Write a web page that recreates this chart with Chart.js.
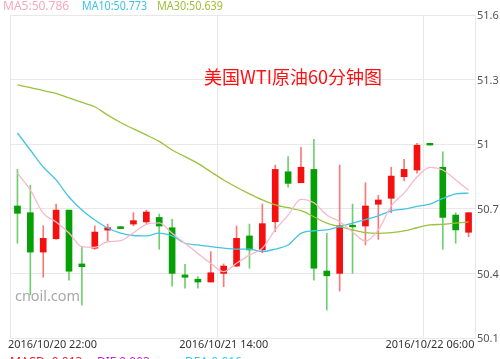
<!DOCTYPE html>
<html>
<head>
<meta charset="utf-8">
<script src="https://cdn.jsdelivr.net/npm/chart.js@4/dist/chart.umd.min.js"></script>
<style>
html,body{margin:0;padding:0;background:#fff;}
#wrap{width:500px;height:359px;position:relative;overflow:hidden;}
</style>
</head>
<body>
<div id="wrap"><canvas id="c" width="500" height="359"></canvas></div>
<script>
const labels = [
"2016/10/20 22:00","2016/10/20 23:00",
"2016/10/21 00:00","2016/10/21 01:00","2016/10/21 02:00","2016/10/21 03:00","2016/10/21 04:00","2016/10/21 05:00",
"2016/10/21 06:00","2016/10/21 07:00","2016/10/21 08:00","2016/10/21 09:00","2016/10/21 10:00","2016/10/21 11:00",
"2016/10/21 12:00","2016/10/21 13:00","2016/10/21 14:00","2016/10/21 15:00","2016/10/21 16:00","2016/10/21 17:00",
"2016/10/21 18:00","2016/10/21 19:00","2016/10/21 20:00","2016/10/21 21:00","2016/10/21 22:00","2016/10/21 23:00",
"2016/10/22 00:00","2016/10/22 01:00","2016/10/22 02:00","2016/10/22 03:00","2016/10/22 04:00","2016/10/22 05:00",
"2016/10/22 06:00","2016/10/22 07:00","2016/10/22 08:00","2016/10/22 09:00"
];
const openVals  = [50.713,50.682,50.499,50.561,50.694,50.444,50.517,50.601,50.617,50.629,50.639,50.660,50.612,50.393,50.373,50.360,50.400,50.434,50.574,50.509,50.640,50.872,50.821,50.883,50.411,50.400,50.624,50.620,50.721,50.749,50.849,50.880,51.004,50.893,50.671,50.591];
const closeVals = [50.679,50.499,50.563,50.694,50.410,50.431,50.592,50.612,50.608,50.645,50.685,50.620,50.400,50.382,50.360,50.403,50.434,50.563,50.509,50.631,50.883,50.818,50.893,50.424,50.389,50.621,50.616,50.713,50.741,50.852,50.883,50.995,50.996,50.660,50.602,50.682];
const highVals  = [50.883,50.810,50.621,50.722,50.694,50.524,50.621,50.629,50.617,50.682,50.694,50.676,50.651,50.442,50.385,50.501,50.444,50.620,50.629,50.722,50.903,50.942,50.986,51.023,50.586,50.903,50.722,50.821,50.763,50.893,50.930,51.004,51.004,50.965,50.682,50.682];
const lowVals   = [50.540,50.300,50.382,50.558,50.369,50.253,50.512,50.552,50.608,50.621,50.628,50.512,50.341,50.331,50.331,50.360,50.338,50.431,50.424,50.496,50.594,50.800,50.821,50.369,50.230,50.318,50.400,50.532,50.558,50.682,50.830,50.865,50.996,50.512,50.540,50.570];
const ma5Vals   = [50.865,50.787,50.680,50.639,50.588,50.524,50.521,50.547,50.552,50.589,50.628,50.635,50.586,50.540,50.493,50.447,50.408,50.447,50.485,50.517,50.602,50.671,50.744,50.728,50.671,50.640,50.592,50.550,50.602,50.713,50.773,50.848,50.892,50.880,50.834,50.786];
const ma10Vals  = [51.052,50.973,50.894,50.834,50.755,50.694,50.648,50.611,50.587,50.576,50.574,50.587,50.574,50.540,50.532,50.524,50.517,50.513,50.513,50.501,50.513,50.532,50.586,50.598,50.602,50.617,50.634,50.650,50.667,50.690,50.699,50.711,50.722,50.748,50.769,50.773];
const ma30Vals  = [51.275,51.263,51.249,51.236,51.215,51.194,51.174,51.135,51.101,51.071,51.043,51.013,50.973,50.942,50.911,50.872,50.834,50.800,50.769,50.741,50.718,50.705,50.691,50.663,50.633,50.617,50.602,50.589,50.586,50.589,50.597,50.612,50.625,50.628,50.633,50.639];
const yTicks = [50.1,50.4,50.7,51,51.3,51.6];
const xTickLabels = ["2016/10/20 22:00","2016/10/21 14:00","2016/10/22 06:00"];
const legendItems = [["MA5:50.786","#f5a9be"],["MA10:50.773","#3fc3df"],["MA30:50.639","#9dc03a"]];
const chartTitle = "美国WTI原油60分钟图";
const watermark = "cnoil.com";
const subLegend = [["MACD:-0.013","#e8202a"],["DIF:0.003","#d020c8"],["DEA:0.016","#30c8e0"]];

const UP_BODY = "#f51010", DOWN_BODY = "#06a006";
const UP_WICK = "#f77a7a", DOWN_WICK = "#6fcf6f";
const isUp = openVals.map((o,i)=>closeVals[i] >= o);

const bodies = openVals.map((o,i)=>[o, closeVals[i]]);
const wicks = lowVals.map((l,i)=>[l, highVals[i]]);

const GRID = "#e8e8e8";
const FONT = "'Noto Sans', 'DejaVu Sans', sans-serif";

const overlay = {
  id: 'overlay',
  beforeDatasetsDraw(chart){
    const ctx = chart.ctx;
    ctx.save();
    ctx.font = "15px " + FONT;
    ctx.fillStyle = "#a8a8a8";
    ctx.textBaseline = "middle";
    ctx.textAlign = "left";
    ctx.fillText(watermark, 15, 297, 65);
    ctx.restore();
  },
  afterDraw(chart){
    const ctx = chart.ctx;
    const xs = chart.scales.x;
    ctx.save();
    // title
    ctx.font = "18px 'Noto Sans CJK SC', sans-serif";
    ctx.fillStyle = "#ff1010";
    ctx.textAlign = "center";
    ctx.textBaseline = "middle";
    ctx.fillText(chartTitle, 293, 77, 178);
    // top legend
    ctx.font = "12px " + FONT;
    ctx.textAlign = "left";
    const legX = [3, 82, 157];
    const legW = [68, 65, 66];
    legendItems.forEach(([t,c],i)=>{
      ctx.fillStyle = c;
      ctx.fillText(t, legX[i], 7, legW[i]);
    });
    // x tick labels
    ctx.font = "11px " + FONT;
    ctx.fillStyle = "#333";
    ctx.textBaseline = "middle";
    xTickLabels.forEach(t=>{
      const idx = labels.indexOf(t);
      const x = xs.getPixelForValue(idx);
      const w = Math.min(ctx.measureText(t).width, 89);
      const left = Math.max(x - w/2, 8);
      ctx.textAlign = "left";
      ctx.fillText(t, left, 345, 89);
    });
    // cut-off sub legend at bottom
    ctx.font = "12px " + FONT;
    ctx.textBaseline = "top";
    const subX = [10, 97, 185];
    subLegend.forEach(([t,c],i)=>{
      ctx.fillStyle = c;
      ctx.fillText(t, subX[i], 357);
    });
    ctx.restore();
  }
};

new Chart(document.getElementById('c'), {
  type: 'bar',
  data: {
    labels: labels,
    datasets: [
      {type:'line', label:'MA5', data: ma5Vals, borderColor:'#f8b8c8', borderWidth:1.3, pointRadius:0, cubicInterpolationMode:'monotone', order:0},
      {type:'line', label:'MA10', data: ma10Vals, borderColor:'#45c4e2', borderWidth:1.3, pointRadius:0, cubicInterpolationMode:'monotone', order:0},
      {type:'line', label:'MA30', data: ma30Vals, borderColor:'#9cc13a', borderWidth:1.3, pointRadius:0, cubicInterpolationMode:'monotone', order:0},
      {label:'body', data: bodies, backgroundColor: isUp.map(u=>u?UP_BODY:DOWN_BODY), barThickness:6, grouped:false, order:1},
      {label:'wick', data: wicks, backgroundColor: isUp.map(u=>u?UP_WICK:DOWN_WICK), barThickness:1, grouped:false, order:2}
    ]
  },
  options: {
    responsive: false,
    animation: false,
    devicePixelRatio: 1,
    layout: { padding: { left: 11, top: 15, right: 0, bottom: 21 } },
    plugins: { legend: {display:false}, tooltip: {enabled:false} },
    scales: {
      x: {
        offset: true,
        grid: {
          offset: true,
          drawTicks: false,
          color: (c)=> ([0,16,32,36].includes(c.index) ? GRID : 'rgba(0,0,0,0)'),
          lineWidth: 1
        },
        border: { display: true, color: GRID },
        ticks: { display: false },
        afterFit: (s)=>{ s.height = 0; }
      },
      y: {
        position: 'right',
        min: 50.1, max: 51.6,
        afterBuildTicks: (s)=>{ s.ticks = yTicks.map(v=>({value:v})); },
        grid: { color: GRID, drawTicks: false, lineWidth: 1 },
        border: { display: true, color: GRID },
        ticks: {
          padding: 2,
          color: '#555',
          font: { family: "'Noto Sans', sans-serif", size: 11 },
          labelOffset: 1,
          callback: (v)=> String(v)
        },
        afterFit: (s)=>{ s.width = 25; }
      }
    }
  },
  plugins: [overlay]
});
</script>
</body>
</html>
